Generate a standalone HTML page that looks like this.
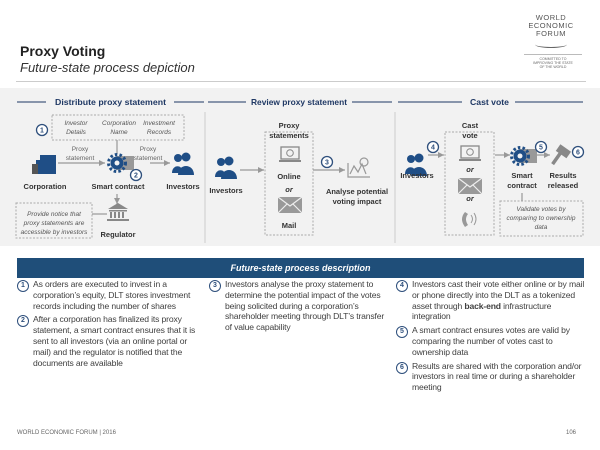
<!DOCTYPE html>
<html><head><meta charset="utf-8"><style>
body{margin:0;width:600px;height:450px;background:#fff;font-family:"Liberation Sans",sans-serif;position:relative;overflow:hidden;color:#333}
.a{position:absolute}
.t{font-size:8.6px;line-height:10.8px;color:#404040;letter-spacing:-0.15px}
.n{display:inline-block;width:10px;height:10px;border:1.3px solid #2e4f7c;border-radius:50%;font-size:7px;line-height:10px;text-align:center;color:#2e4f7c;font-weight:bold;position:absolute;left:0;top:1px;letter-spacing:0}
.it{padding-left:16px;position:relative;margin-bottom:3px}
</style></head><body>
<div class="a" style="left:20px;top:43px;font-size:14px;font-weight:bold;color:#222">Proxy Voting</div>
<div class="a" style="left:20px;top:60px;font-size:13px;font-style:italic;color:#333">Future-state process depiction</div>
<div class="a" style="left:520px;top:14px;width:62px;text-align:center;font-size:7.5px;line-height:8px;color:#555;letter-spacing:0.5px">WORLD<br>ECONOMIC<br>FORUM</div>
<div class="a" style="left:535px;top:41px;width:32px;height:6px;border-bottom:1px solid #666;border-radius:0 0 50% 50%"></div>
<div class="a" style="left:524px;top:54px;width:58px;border-top:1px solid #bbb;text-align:center;font-size:3.5px;line-height:4px;color:#666;padding-top:2px">COMMITTED TO<br>IMPROVING THE STATE<br>OF THE WORLD</div>
<div class="a" style="left:16px;top:81px;width:570px;border-top:1px solid #ccc"></div>
<div class="a" style="left:0;top:88px;width:600px;height:158px;background:#f2f2f2"></div>
<svg class="a" style="left:0;top:0" width="600" height="250" font-family="Liberation Sans, sans-serif">
<defs><marker id="ar" markerWidth="6" markerHeight="6" refX="5" refY="3" orient="auto"><path d="M0,0.5L5,3L0,5.5z" fill="#999"/></marker>
<g id="inv"><circle cx="6" cy="5" r="4" fill="#1f4e86"/><circle cx="14" cy="4" r="4.5" fill="#1f4e86"/><path d="M0,20 C0,11 11,11 11,20z" fill="#1f4e86"/><path d="M6,22 C6,10 22,10 22,22z" fill="#1f4e86"/></g>
<g id="lap"><rect x="2" y="0" width="18" height="12" fill="none" stroke="#888" stroke-width="1.3"/><circle cx="11" cy="6" r="3.3" fill="none" stroke="#888"/><rect x="0" y="13" width="22" height="2" fill="#888"/></g>
<g id="mail"><rect x="0" y="0" width="24" height="16" fill="#999"/><path d="M0,0L12,9L24,0M0,16L9,7M24,16L15,7" stroke="#eee" stroke-width="1.2" fill="none"/></g>
<g id="gear"><rect x="8" y="2" width="18" height="14" fill="#999"/><circle cx="9" cy="9" r="6.5" fill="#1f4e86"/><circle cx="9" cy="9" r="8.5" fill="none" stroke="#1f4e86" stroke-width="3" stroke-dasharray="2.5 2.2"/><circle cx="9" cy="9" r="2.5" fill="#f2f2f2"/></g>
<g id="c"><circle r="5.5" fill="#fff" stroke="#2e4f7c" stroke-width="1.3"/></g>
</defs>
<g stroke="#1f3864" stroke-width="1"><line x1="17" y1="102" x2="46" y2="102"/><line x1="174" y1="102" x2="204" y2="102"/><line x1="208" y1="102" x2="246" y2="102"/><line x1="352" y1="102" x2="392" y2="102"/><line x1="398" y1="102" x2="462" y2="102"/><line x1="515" y1="102" x2="583" y2="102"/></g>
<g fill="#1f3864" font-weight="bold" font-size="8.5"><text x="55" y="105" textLength="111" lengthAdjust="spacingAndGlyphs">Distribute proxy statement</text><text x="251" y="105" textLength="96" lengthAdjust="spacingAndGlyphs">Review proxy statement</text><text x="470" y="105" textLength="39" lengthAdjust="spacingAndGlyphs">Cast vote</text></g>
<line x1="205" y1="112" x2="205" y2="243" stroke="#ccc"/><line x1="395" y1="112" x2="395" y2="243" stroke="#ccc"/>
<g fill="none" stroke="#aaa" stroke-dasharray="2 1.5"><rect x="52" y="115" width="132" height="25"/><rect x="16" y="203" width="76" height="35"/><rect x="265" y="132" width="48" height="103"/><rect x="445" y="132" width="49" height="103"/><rect x="500" y="201" width="83" height="35"/></g>
<g font-size="6.5" font-style="italic" fill="#555" text-anchor="middle"><text x="76" y="125">Investor</text><text x="76" y="134">Details</text><text x="119" y="125">Corporation</text><text x="119" y="134">Name</text><text x="159" y="125">Investment</text><text x="159" y="134">Records</text>
<text x="54" y="216">Provide notice that</text><text x="54" y="225">proxy statements are</text><text x="54" y="234">accessible by investors</text>
<text x="541" y="211">Validate votes by</text><text x="541" y="220">comparing to ownership</text><text x="541" y="229">data</text></g>
<g font-size="6.5" fill="#666" text-anchor="middle"><text x="80" y="151">Proxy</text><text x="80" y="160">statement</text><text x="148" y="151">Proxy</text><text x="148" y="160">statement</text></g>
<g stroke="#999" stroke-width="1.2" fill="none"><line x1="117" y1="140" x2="117" y2="154"/><line x1="58" y1="163" x2="105" y2="163" marker-end="url(#ar)"/><line x1="150" y1="163" x2="170" y2="163" marker-end="url(#ar)"/><line x1="117" y1="194" x2="117" y2="204" marker-end="url(#ar)"/><line x1="92" y1="214" x2="107" y2="214"/><line x1="240" y1="170" x2="264" y2="170" marker-end="url(#ar)"/><line x1="313" y1="170" x2="345" y2="170" marker-end="url(#ar)"/><line x1="428" y1="155" x2="444" y2="155" marker-end="url(#ar)"/><line x1="495" y1="155" x2="510" y2="155" marker-end="url(#ar)"/><line x1="535" y1="155" x2="550" y2="155" marker-end="url(#ar)"/><line x1="522" y1="193" x2="522" y2="201"/></g>
<g fill="#1f4e86"><rect x="40" y="155" width="16" height="19"/><rect x="36" y="160" width="6" height="14"/><rect x="32" y="164" width="6" height="10" fill="#555"/></g>
<use href="#gear" x="108" y="154"/><use href="#gear" x="511" y="147"/>
<use href="#inv" x="172" y="153"/><use href="#inv" x="215" y="157"/><use href="#inv" x="405" y="154"/>
<g fill="#888"><path d="M108,209L118,203L128,209z"/><rect x="109" y="210" width="18" height="1.5"/><rect x="110" y="212" width="2" height="6"/><rect x="114" y="212" width="2" height="6"/><rect x="118" y="212" width="2" height="6"/><rect x="122" y="212" width="2" height="6"/><rect x="107" y="219" width="22" height="2"/></g>
<use href="#lap" x="279" y="147"/><use href="#mail" x="278" y="197"/><use href="#lap" x="459" y="146"/><use href="#mail" x="458" y="178"/>
<g fill="none" stroke="#999" stroke-width="1.2"><path d="M348,163L348,177L370,177"/><path d="M350,174L354,166L358,172L362,164L366,174"/><circle cx="364" cy="162" r="4"/></g>
<path d="M465,212 Q459,219 465,227 L468,225 Q464,219 468,214z" fill="#999"/><path d="M471,215 Q474,219 471,223M474,213 Q478,219 474,225" stroke="#999" fill="none"/>
<g fill="#888"><rect x="557" y="147" width="13" height="8" transform="rotate(35 563 151)"/><rect x="549" y="157" width="14" height="3.5" transform="rotate(-55 556 158)"/></g>
<g font-size="7.5" font-weight="bold" fill="#333" text-anchor="middle"><text x="45" y="189">Corporation</text><text x="118" y="189">Smart contract</text><text x="183" y="189">Investors</text><text x="118" y="237">Regulator</text><text x="226" y="193">Investors</text>
<text x="289" y="128">Proxy</text><text x="289" y="138">statements</text><text x="289" y="179">Online</text><text x="289" y="228">Mail</text><text x="357" y="194">Analyse potential</text><text x="357" y="204">voting impact</text>
<text x="417" y="178">Investors</text><text x="470" y="128">Cast</text><text x="470" y="138">vote</text><text x="522" y="178">Smart</text><text x="522" y="188">contract</text><text x="563" y="178">Results</text><text x="563" y="188">released</text></g>
<g font-size="7.5" font-style="italic" font-weight="bold" fill="#333" text-anchor="middle"><text x="289" y="192">or</text><text x="470" y="172">or</text><text x="470" y="201">or</text></g>
<use href="#c" x="42" y="130"/><use href="#c" x="136" y="175"/><use href="#c" x="327" y="162"/><use href="#c" x="433" y="147"/><use href="#c" x="541" y="147"/><use href="#c" x="578" y="152"/>
<g font-size="7" font-weight="bold" fill="#2e4f7c" text-anchor="middle"><text x="42" y="132.5">1</text><text x="136" y="177.5">2</text><text x="327" y="164.5">3</text><text x="433" y="149.5">4</text><text x="541" y="149.5">5</text><text x="578" y="154.5">6</text></g>
</svg>
<div class="a" style="left:17px;top:258px;width:567px;height:20px;background:#1f4e79;color:#fff;font-weight:bold;font-style:italic;font-size:9px;line-height:20px;text-align:center">Future-state process description</div>
<div class="a t" style="left:17px;top:279px;width:180px">
<div class="it"><span class="n">1</span>As orders are executed to invest in a corporation’s equity, DLT stores investment records including the number of shares</div>
<div class="it"><span class="n">2</span>After a corporation has finalized its proxy statement, a smart contract ensures that it is sent to all investors (via an online portal or mail) and the regulator is notified that the documents are available</div></div>
<div class="a t" style="left:209px;top:279px;width:180px">
<div class="it"><span class="n">3</span>Investors analyse the proxy statement to determine the potential impact of the votes being solicited during a corporation’s shareholder meeting through DLT’s transfer of value capability</div></div>
<div class="a t" style="left:396px;top:279px;width:190px">
<div class="it"><span class="n">4</span>Investors cast their vote either online or by mail or phone directly into the DLT as a tokenized asset through <b>back-end</b> infrastructure integration</div>
<div class="it"><span class="n">5</span>A smart contract ensures votes are valid by comparing the number of votes cast to ownership data</div>
<div class="it"><span class="n">6</span>Results are shared with the corporation and/or investors in real time or during a shareholder meeting</div></div>
<div class="a" style="left:17px;top:430px;font-size:6px;color:#666">WORLD ECONOMIC FORUM | 2016</div>
<div class="a" style="left:566px;top:430px;font-size:6px;color:#666">106</div>
</body></html>
